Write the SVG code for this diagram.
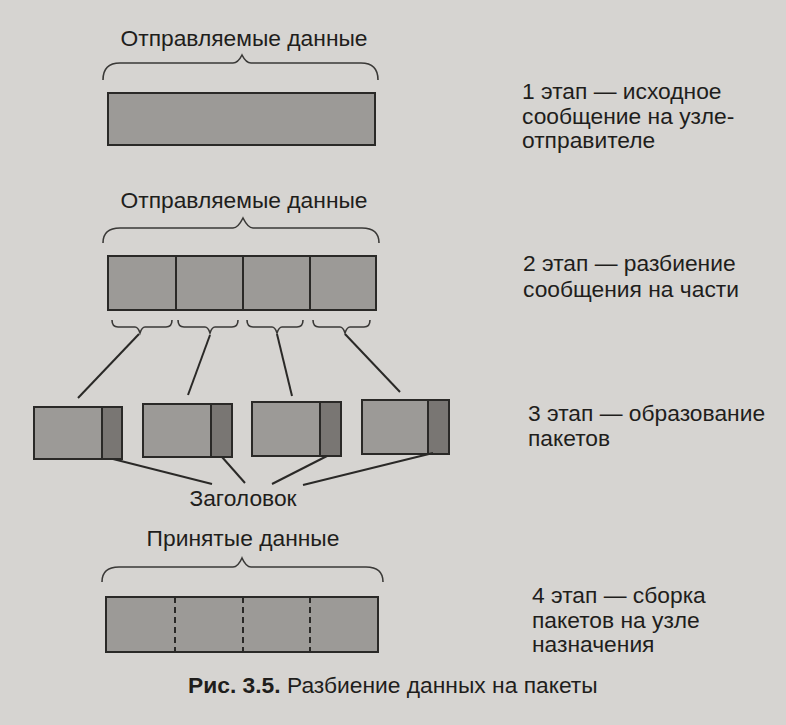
<svg xmlns="http://www.w3.org/2000/svg" width="786" height="725" viewBox="0 0 786 725">
<defs>
<style>
.bg{fill:#d6d4d1}
.t{font-family:"Liberation Sans",Arial,sans-serif;font-size:22.8px;fill:#1f1e1c}
.tc{text-anchor:middle}
.blk{fill:#9c9a97;stroke:#2a2927;stroke-width:2}
.hdr{fill:#797673;stroke:#2a2927;stroke-width:2}
.ln{fill:none;stroke:#2a2927;stroke-width:2}
.br{fill:none;stroke:#3a3937;stroke-width:1.6}
.dash{fill:none;stroke:#2a2927;stroke-width:2;stroke-dasharray:6 4}
</style>
</defs>
<rect class="bg" x="0" y="0" width="786" height="725"/>

<g id="stage1">
<text class="t tc" x="244" y="46">Отправляемые данные</text>
<path class="br" d="M103,80 Q103,63 120,63 L233,63 Q238,63 242,55 Q246,63 251,63 L361,63 Q378,63 378,80"/>
<rect class="blk" x="108" y="93" width="267" height="52"/>
</g>

<g id="stage2">
<text class="t tc" x="244" y="208">Отправляемые данные</text>
<path class="br" d="M103,243 Q103,228 120,228 L233,228 Q238,228 243,218 Q248,228 253,228 L362,228 Q379,228 379,243"/>
<rect class="blk" x="108" y="256" width="268" height="54"/>
<line class="ln" x1="176" y1="256" x2="176" y2="310"/>
<line class="ln" x1="243" y1="256" x2="243" y2="310"/>
<line class="ln" x1="310" y1="256" x2="310" y2="310"/>
<path class="br" d="M112,320 Q112,327 118,327 L135,327 Q138,327 140,333 Q142,327 145,327 L166,327 Q172,327 172,320"/>
<path class="br" d="M178,320 Q178,327 184,327 L205,327 Q208,327 210,333 Q212,327 215,327 L232,327 Q238,327 238,320"/>
<path class="br" d="M247,320 Q247,327 253,327 L272,327 Q275,327 277,333 Q279,327 282,327 L297,327 Q303,327 303,320"/>
<path class="br" d="M313,320 Q313,327 319,327 L340,327 Q343,327 345,333 Q347,327 350,327 L364,327 Q370,327 370,320"/>
</g>

<g id="packet1">
<rect class="blk" x="34" y="407" width="88" height="52"/>
<rect class="hdr" x="102" y="407" width="20" height="52"/>
</g>
<g id="packet2">
<rect class="blk" x="143" y="404" width="89" height="53"/>
<rect class="hdr" x="211" y="404" width="21" height="53"/>
</g>
<g id="packet3">
<rect class="blk" x="252" y="402" width="89" height="54"/>
<rect class="hdr" x="320" y="402" width="21" height="54"/>
</g>
<g id="packet4">
<rect class="blk" x="362" y="400" width="87" height="54"/>
<rect class="hdr" x="428" y="400" width="21" height="54"/>
</g>

<g id="header-label">
<text class="t tc" x="243" y="506">Заголовок</text>
</g>

<g id="connectors">
<line class="ln" x1="139" y1="334" x2="78" y2="398"/>
<line class="ln" x1="210" y1="335" x2="188" y2="395"/>
<line class="ln" x1="277" y1="334" x2="292" y2="396"/>
<line class="ln" x1="345" y1="334" x2="400" y2="392"/>
<line class="ln" x1="113" y1="459" x2="212" y2="484"/>
<line class="ln" x1="222" y1="457" x2="245" y2="483"/>
<line class="ln" x1="327" y1="456" x2="272" y2="484"/>
<line class="ln" x1="433" y1="453" x2="303" y2="485"/>
</g>

<g id="stage4">
<text class="t tc" x="243" y="546">Принятые данные</text>
<path class="br" d="M102,582 Q102,567 119,567 L233,567 Q238,567 242,558 Q246,567 251,567 L366,567 Q383,567 383,582"/>
<rect class="blk" x="106" y="597" width="272" height="55"/>
<line class="dash" x1="175" y1="597" x2="175" y2="652"/>
<line class="dash" x1="243" y1="597" x2="243" y2="652"/>
<line class="dash" x1="310" y1="597" x2="310" y2="652"/>
</g>

<g id="labels">
<text class="t" x="522" y="99">1 этап — исходное</text>
<text class="t" x="522" y="124">сообщение на узле-</text>
<text class="t" x="522" y="148">отправителе</text>
<text class="t" x="523" y="271">2 этап — разбиение</text>
<text class="t" x="523" y="297">сообщения на части</text>
<text class="t" x="528" y="421">3 этап — образование</text>
<text class="t" x="528" y="446">пакетов</text>
<text class="t" x="532" y="603">4 этап — сборка</text>
<text class="t" x="532" y="628">пакетов на узле</text>
<text class="t" x="532" y="652">назначения</text>
</g>

<g id="caption">
<text class="t" x="188" y="693" font-size="22.6"><tspan font-weight="bold">Рис. 3.5.</tspan> Разбиение данных на пакеты</text>
</g>
</svg>
